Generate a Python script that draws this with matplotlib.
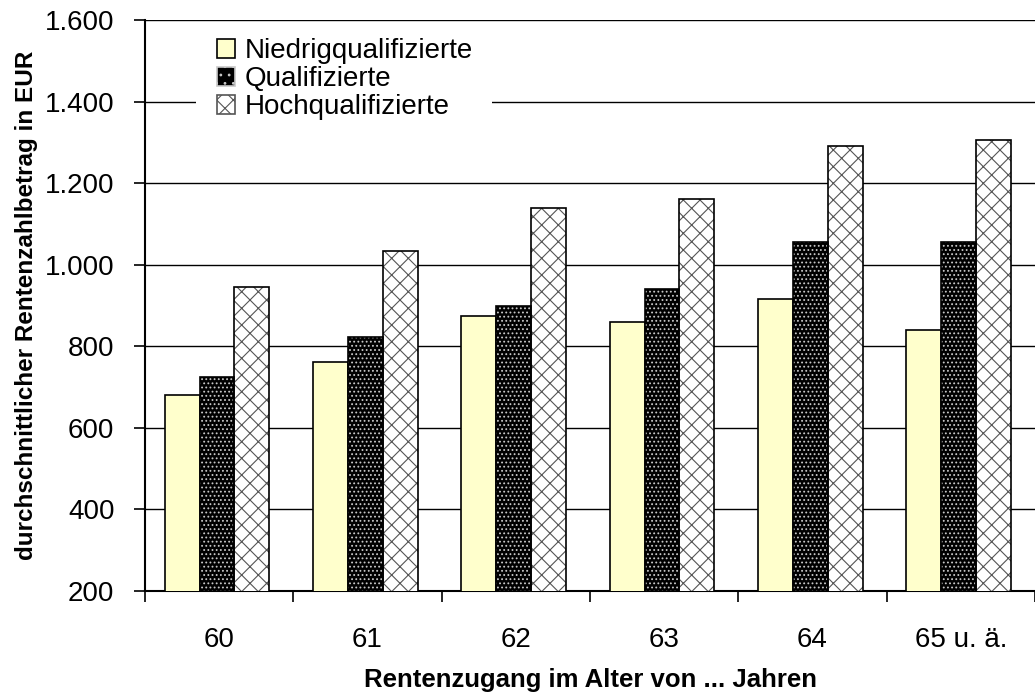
"""Durchschnittlicher Rentenzahlbetrag nach Qualifikation und Renteneintrittsalter"""
import numpy as np
import matplotlib.pyplot as plt
from matplotlib.patches import Patch, Rectangle

plt.rcParams['font.family'] = ['Liberation Sans', 'DejaVu Sans']
plt.rcParams['hatch.linewidth'] = 0.8

alter = ["60", "61", "62", "63", "64", "65 u. ä."]
niedrig = [680, 762, 875, 860, 915, 840]
qualifiziert = [725, 822, 900, 940, 1055, 1055]
hoch = [945, 1033, 1138, 1162, 1290, 1305]

yticks = [200, 400, 600, 800, 1000, 1200, 1400, 1600]
ytick_labels = ["200", "400", "600", "800", "1.000", "1.200", "1.400", "1.600"]

W, H = 1035, 692
fig = plt.figure(figsize=(W / 100, H / 100), dpi=100)
ax = fig.add_axes([145 / W, 101 / H, 890 / W, 571 / H])

x = np.arange(len(alter))
w = 0.235
off = -0.015

# gelb, schwarz mit weissen Punkten, weiss mit Kreuzschraffur
ax.bar(x - w + off, niedrig, w, color="#ffffcc", edgecolor="black",
       linewidth=1.2, zorder=3)
ax.bar(x + off, qualifiziert, w, color="black", edgecolor="#c8c8c8",
       hatch="....", linewidth=0, zorder=3)
ax.bar(x + off, qualifiziert, w, fill=False, edgecolor="black",
       linewidth=1.2, zorder=4)
ax.bar(x + w + off, hoch, w, color="white", edgecolor="#555555",
       hatch="xx", linewidth=0, zorder=3)
ax.bar(x + w + off, hoch, w, fill=False, edgecolor="black",
       linewidth=1.2, zorder=4)

ax.set_ylim(200, 1600)
ax.set_xlim(-0.5, -0.5 + 890 / 149.3)
ax.set_yticks(yticks)
ax.set_yticklabels(ytick_labels)
ax.yaxis.grid(True, color="black", linewidth=1.0)
ax.set_axisbelow(True)

# Gruppengrenzen als Striche, Beschriftung in der Mitte
ax.set_xticks(np.arange(len(alter) + 1) - 0.5)
ax.set_xticklabels([])
ax.set_xticks(x, minor=True)
ax.set_xticklabels(alter, minor=True)
ax.tick_params(axis="x", which="major", length=8, width=1.2, direction="out")
ax.tick_params(axis="x", which="minor", length=0, pad=26, labelsize=20)
ax.tick_params(axis="y", length=8, width=1.2, direction="out", pad=14,
               labelsize=20)

for s in ["top", "right"]:
    ax.spines[s].set_visible(False)
for s in ["left", "bottom"]:
    ax.spines[s].set_linewidth(1.5)

ax.set_xlabel("Rentenzugang im Alter von ... Jahren", fontsize=18.5,
              fontweight="bold", labelpad=11)
ax.set_ylabel("durchschnittlicher Rentenzahlbetrag in EUR", fontsize=17.5,
              fontweight="bold", labelpad=5)

# weisser Hintergrund der Legende unterbricht die Gitterlinie
ax.add_patch(Rectangle((196 / W, 1 - 128 / H), 296 / W, 98 / H,
                       transform=fig.transFigure, facecolor="white",
                       edgecolor="none", zorder=2))

handles = [
    Patch(facecolor="#ffffcc", edgecolor="black", linewidth=1.2),
    Patch(facecolor="black", edgecolor="#c8c8c8", hatch="..", linewidth=1.2),
    Patch(facecolor="white", edgecolor="#555555", hatch="xx", linewidth=1.2),
]
fig.legend(handles, ["Niedrigqualifizierte", "Qualifizierte",
                     "Hochqualifizierte"],
           loc="upper left", bbox_to_anchor=(209 / W, 1 - 30 / H),
           borderaxespad=0, fontsize=20, frameon=False,
           handlelength=0.65, handleheight=0.65, handletextpad=0.35,
           labelspacing=0.07, borderpad=0.3)

plt.savefig("out.png", dpi=100)
